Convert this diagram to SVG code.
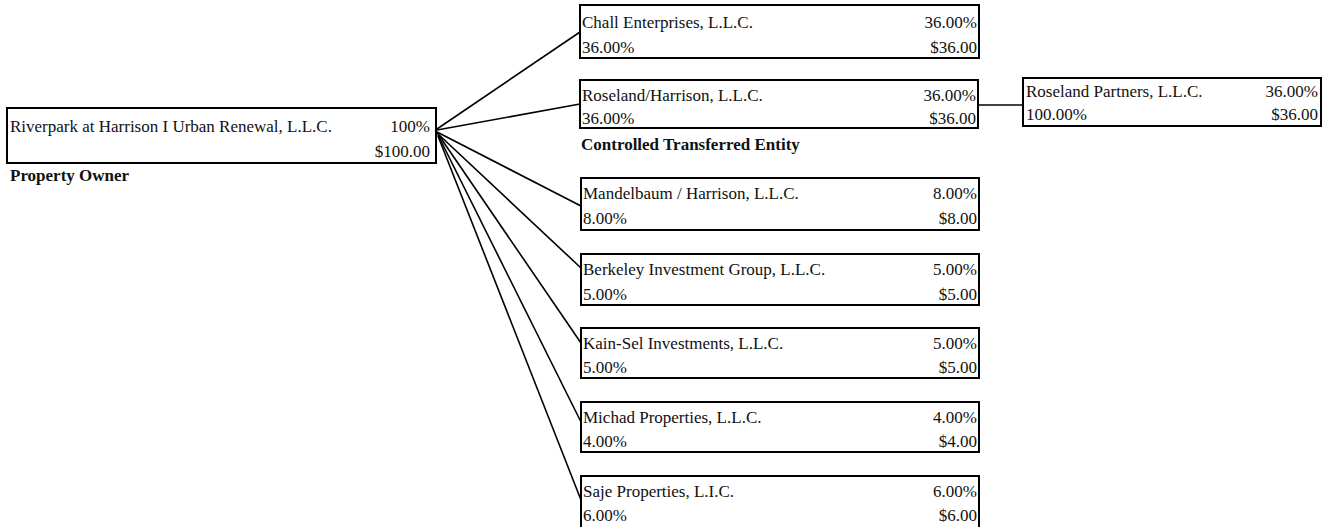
<svg xmlns="http://www.w3.org/2000/svg" width="1322" height="527" viewBox="0 0 1322 527">
<style>
.box{fill:#fff;stroke:#000;stroke-width:2}
text{font-family:"Liberation Serif","Times New Roman",serif;font-size:17px;fill:#111}
.r{text-anchor:end}
.b{font-weight:bold}
.con line{stroke:#000;stroke-width:1.6}
</style>
<rect width="1322" height="527" fill="#fff"/>
<g class="con" id="connectors">
<line x1="437" y1="129" x2="580" y2="32"/>
<line x1="437" y1="130" x2="580" y2="104"/>
<line x1="437" y1="132" x2="581" y2="206"/>
<line x1="437" y1="133" x2="581" y2="268"/>
<line x1="438" y1="134" x2="581" y2="343"/>
<line x1="438" y1="135" x2="581" y2="422"/>
<line x1="438" y1="136" x2="581" y2="500"/>
<line x1="979" y1="105" x2="1023" y2="105"/>
</g>
<g id="owner">
<rect class="box" x="7" y="108" width="429" height="55"/>
<text x="10" y="132">Riverpark at Harrison I Urban Renewal, L.L.C.</text>
<text class="r" x="430" y="132">100%</text>
<text class="r" x="430" y="157">$100.00</text>
<text class="b" x="10" y="181">Property Owner</text>
</g>
<g id="chall">
<rect class="box" x="580" y="5" width="399" height="53"/>
<text x="582" y="28">Chall Enterprises, L.L.C.</text>
<text class="r" x="977" y="28">36.00%</text>
<text x="582" y="53">36.00%</text>
<text class="r" x="977" y="53">$36.00</text>
</g>
<g id="roseland-harrison">
<rect class="box" x="580" y="80" width="398" height="48"/>
<text x="582" y="101">Roseland/Harrison, L.L.C.</text>
<text class="r" x="976" y="101">36.00%</text>
<text x="582" y="124">36.00%</text>
<text class="r" x="976" y="124">$36.00</text>
<text class="b" x="581" y="150">Controlled Transferred Entity</text>
</g>
<g id="roseland-partners">
<rect class="box" x="1023" y="78" width="298" height="48"/>
<text x="1026" y="97">Roseland Partners, L.L.C.</text>
<text class="r" x="1318" y="97">36.00%</text>
<text x="1026" y="120">100.00%</text>
<text class="r" x="1318" y="120">$36.00</text>
</g>
<g id="mandelbaum">
<rect class="box" x="581" y="178" width="398" height="52"/>
<text x="583" y="199">Mandelbaum / Harrison, L.L.C.</text>
<text class="r" x="977" y="199">8.00%</text>
<text x="583" y="224">8.00%</text>
<text class="r" x="977" y="224">$8.00</text>
</g>
<g id="berkeley">
<rect class="box" x="581" y="254" width="398" height="51"/>
<text x="583" y="275">Berkeley Investment Group, L.L.C.</text>
<text class="r" x="977" y="275">5.00%</text>
<text x="583" y="300">5.00%</text>
<text class="r" x="977" y="300">$5.00</text>
</g>
<g id="kain-sel">
<rect class="box" x="581" y="328" width="398" height="50"/>
<text x="583" y="349">Kain-Sel Investments, L.L.C.</text>
<text class="r" x="977" y="349">5.00%</text>
<text x="583" y="373">5.00%</text>
<text class="r" x="977" y="373">$5.00</text>
</g>
<g id="michad">
<rect class="box" x="581" y="402" width="398" height="50"/>
<text x="583" y="423">Michad Properties, L.L.C.</text>
<text class="r" x="977" y="423">4.00%</text>
<text x="583" y="447">4.00%</text>
<text class="r" x="977" y="447">$4.00</text>
</g>
<g id="saje">
<rect class="box" x="581" y="476" width="398" height="52"/>
<text x="583" y="497">Saje Properties, L.I.C.</text>
<text class="r" x="977" y="497">6.00%</text>
<text x="583" y="521">6.00%</text>
<text class="r" x="977" y="521">$6.00</text>
</g>
</svg>
